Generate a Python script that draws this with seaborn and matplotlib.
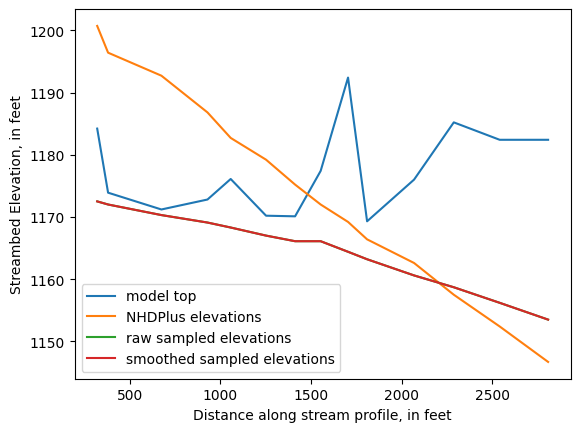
import matplotlib
matplotlib.use("Agg")
import matplotlib.pyplot as plt
import seaborn as sns
import pandas as pd

distance = [321, 381, 675, 929, 1057, 1252, 1412, 1553, 1704, 1809, 2068, 2287, 2540, 2807]
model_top = [1184.2, 1173.9, 1171.2, 1172.8, 1176.1, 1170.2, 1170.1, 1177.4, 1192.4,
             1169.3, 1176.0, 1185.2, 1182.4, 1182.4]
nhdplus = [1200.7, 1196.4, 1192.7, 1186.8, 1182.7, 1179.2, 1175.2, 1172.0, 1169.2,
           1166.4, 1162.6, 1157.5, 1152.4, 1146.7]
raw_sampled = [1172.5, 1172.0, 1170.3, 1169.1, 1168.3, 1167.0, 1166.1, 1166.1, 1164.4,
               1163.2, 1160.6, 1158.7, 1156.2, 1153.5]
smoothed_sampled = [1172.5, 1172.0, 1170.3, 1169.1, 1168.3, 1167.0, 1166.1, 1166.1, 1164.4,
                    1163.2, 1160.6, 1158.7, 1156.2, 1153.5]

labels = ["model top", "NHDPlus elevations", "raw sampled elevations",
          "smoothed sampled elevations"]
series = [model_top, nhdplus, raw_sampled, smoothed_sampled]
colors = ["#1f77b4", "#ff7f0e", "#2ca02c", "#d62728"]

fig, ax = plt.subplots(figsize=(6.4, 4.8), dpi=100)
for lab, vals, c in zip(labels, series, colors):
    df = pd.DataFrame({"x": distance, "y": vals})
    sns.lineplot(data=df, x="x", y="y", ax=ax, color=c, label=lab,
                 sort=False, estimator=None, linewidth=1.5)

ax.set_xlabel("Distance along stream profile, in feet")
ax.set_ylabel("Streambed Elevation, in feet")
ax.legend(loc="lower left")
fig.savefig("out.png", dpi=100, bbox_inches="tight")
